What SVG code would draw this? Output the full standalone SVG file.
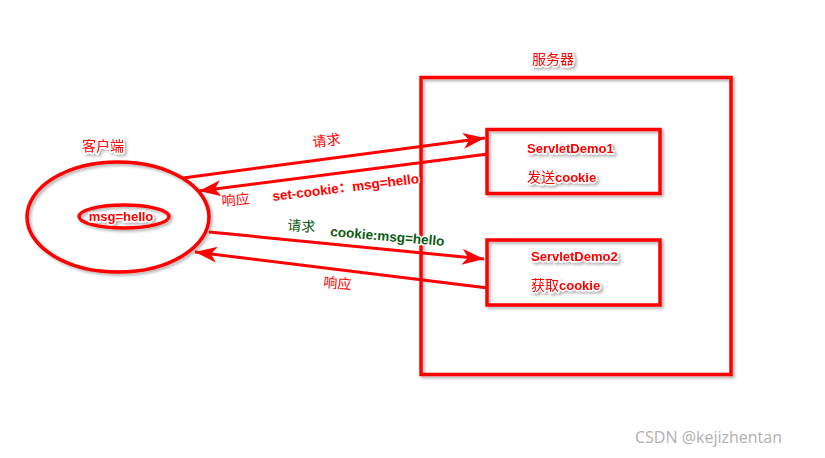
<svg xmlns="http://www.w3.org/2000/svg" width="825" height="458" viewBox="0 0 825 458">
<style>
.box{fill:none;stroke:#ff0000;stroke-width:3.5}
.ln{fill:none;stroke:#ff0000;stroke-width:3}
.t{font-family:"Liberation Sans","Noto Sans CJK SC",sans-serif;fill:#ff0000;stroke:#ffffff;stroke-width:3;paint-order:stroke;stroke-linejoin:round}
.cn{font-size:14px}
.b{font-size:13px;font-weight:bold}
.b2{font-size:13.5px;font-weight:bold}
.g{fill:#0b5a10}
</style>
<defs>
<filter id="sh" x="-10%" y="-10%" width="125%" height="125%">
<feDropShadow dx="2" dy="2" stdDeviation="1.5" flood-color="#000" flood-opacity="0.3"/>
</filter>
<marker id="ah" markerUnits="userSpaceOnUse" markerWidth="24" markerHeight="16" refX="22" refY="8" orient="auto">
<path d="M0,0 L22,8 L0,16 L6,8 Z" fill="#ff0000"/>
</marker>
</defs>
<rect width="825" height="458" fill="#ffffff"/>

<g id="server" filter="url(#sh)">
<rect class="box" x="421" y="77.5" width="310" height="297"/>
<text class="t cn" x="532" y="64">服务器</text>
</g>

<g id="demo1" filter="url(#sh)">
<rect class="box" x="487" y="129.5" width="173" height="64"/>
<text class="t b" x="527" y="153">ServletDemo1</text>
<text class="t" x="527" y="182"><tspan style="font-size:14px">发送</tspan><tspan style="font-size:13px;font-weight:bold">cookie</tspan></text>
</g>

<g id="demo2" filter="url(#sh)">
<rect class="box" x="487" y="240" width="173" height="65"/>
<text class="t b" x="531" y="261">ServletDemo2</text>
<text class="t" x="531" y="290"><tspan style="font-size:14px">获取</tspan><tspan style="font-size:13px;font-weight:bold">cookie</tspan></text>
</g>

<g id="client" filter="url(#sh)">
<ellipse class="box" cx="118" cy="217" rx="91" ry="55"/>
<ellipse class="box" cx="124" cy="216.5" rx="45" ry="11.5"/>
<text class="t b" x="121" y="221" text-anchor="middle">msg=hello</text>
<text class="t cn" x="82" y="151">客户端</text>
</g>

<g id="connectors">
<line class="ln" x1="183" y1="178" x2="485" y2="138" marker-end="url(#ah)"/>
<line class="ln" x1="488" y1="154" x2="199" y2="191" marker-end="url(#ah)"/>
<line class="ln" x1="209" y1="232" x2="484" y2="259" marker-end="url(#ah)"/>
<line class="ln" x1="488" y1="288" x2="195" y2="252" marker-end="url(#ah)"/>
</g>

<g id="labels">
<text class="t cn" x="313" y="147" transform="rotate(-6 313 147)">请求</text>
<text class="t cn" x="222" y="206" transform="rotate(-5 222 206)">响应</text>
<text class="t b2" x="273" y="201" transform="rotate(-7 273 201)">set-cookie：msg=hello</text>
<text class="t cn g" x="287" y="230" transform="rotate(4 287 230)">请求</text>
<text class="t b2 g" x="330" y="236" transform="rotate(5 330 236)">cookie:msg=hello</text>
<text class="t cn" x="323" y="287" transform="rotate(5 323 287)">响应</text>
</g>

<text x="635" y="443" style="font-family:'Open Sans','Noto Sans',sans-serif;font-size:16px;fill:#b0b0b0">CSDN @kejizhentan</text>
</svg>
